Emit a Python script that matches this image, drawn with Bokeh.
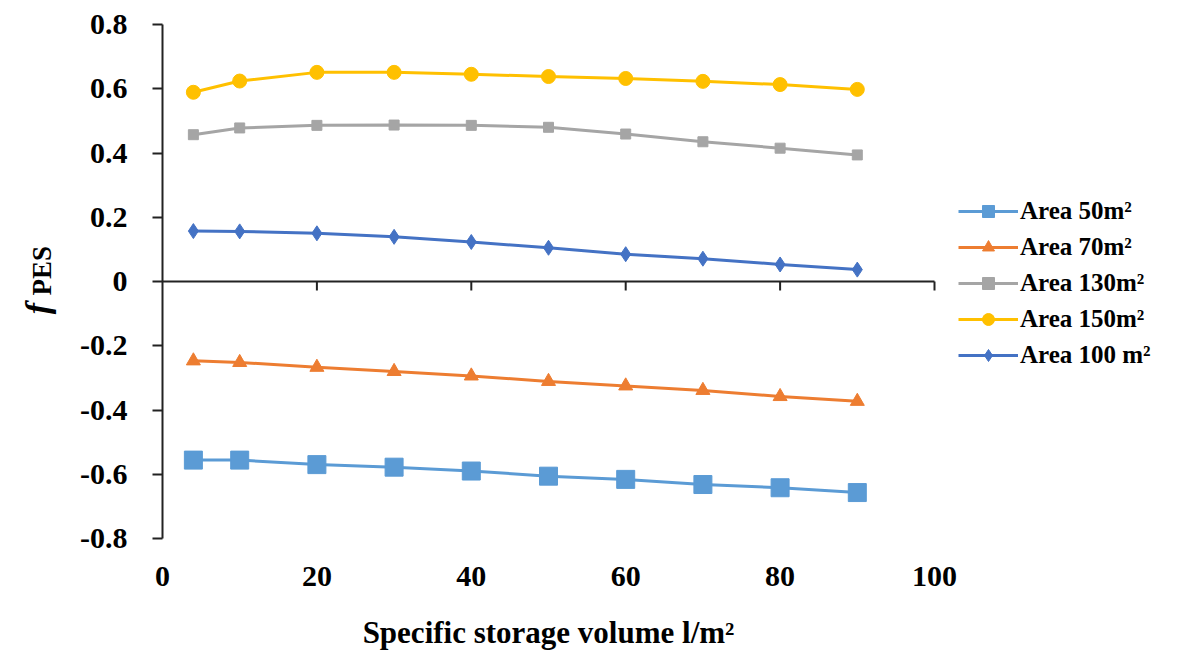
from bokeh.plotting import figure
from bokeh.layouts import row, column
from bokeh.models import (FixedTicker, Legend, LegendItem, Label,
                          Range1d, CustomJSTickFormatter)
from bokeh.embed import file_html
from bokeh.resources import INLINE
import math

# ---- data ----
storage_volume = [4, 10, 20, 30, 40, 50, 60, 70, 80, 90]
area_50 = [-0.556, -0.556, -0.570, -0.578, -0.590, -0.606, -0.616, -0.632, -0.642, -0.657]
area_70 = [-0.247, -0.252, -0.267, -0.280, -0.294, -0.311, -0.325, -0.339, -0.358, -0.373]
area_130 = [0.457, 0.478, 0.486, 0.487, 0.486, 0.480, 0.459, 0.435, 0.415, 0.394]
area_150 = [0.589, 0.624, 0.651, 0.651, 0.645, 0.638, 0.632, 0.623, 0.613, 0.598]
area_100 = [0.157, 0.156, 0.150, 0.139, 0.123, 0.105, 0.085, 0.071, 0.053, 0.037]

series_names = ["Area 50m\u00b2", "Area 70m\u00b2", "Area 130m\u00b2", "Area 150m\u00b2", "Area 100 m\u00b2"]
series_values = [area_50, area_70, area_130, area_150, area_100]
series_colors = ["#5B9BD5", "#ED7D31", "#A5A5A5", "#FFC000", "#4472C4"]
series_markers = ["square", "triangle", "square", "circle", "diamond"]
series_sizes = [18, 14, 10, 14, 15]

x_ticks = [0, 20, 40, 60, 80, 100]
zero_line_ticks = [20, 40, 60, 80, 100]
y_ticks = [-0.8, -0.6, -0.4, -0.2, 0, 0.2, 0.4, 0.6, 0.8]

x_title = "Specific storage volume l/m\u00b2"

FONT = "Liberation Serif"
AXIS_COLOR = "#222222"

FRAME_W = 1000            # plot frame incl. room on the right for the legend
AXIS_W = 772              # pixel width of the 0..100 axis span
X_END = x_ticks[-1] * FRAME_W / AXIS_W
TOP_H = 605               # height of the upper row

# ---- narrow figure holding the y-axis title ----
yt = figure(width=60, height=TOP_H, output_backend="svg", toolbar_location=None,
            x_range=Range1d(0, 60), y_range=Range1d(TOP_H, 0),
            min_border=0, x_axis_location=None, y_axis_location=None)
yt.outline_line_color = None
yt.xgrid.visible = False
yt.ygrid.visible = False
yt.add_layout(Label(x=37, y=341, text="f", angle=math.pi / 2,
                    text_font=FONT, text_font_style="bold italic", text_font_size="34px",
                    text_align="left", text_baseline="middle", text_color="black"))
yt.add_layout(Label(x=41, y=319, text="PES", angle=math.pi / 2,
                    text_font=FONT, text_font_style="bold", text_font_size="27px",
                    text_align="left", text_baseline="middle", text_color="black"))

# ---- main figure ----
p = figure(frame_width=FRAME_W, frame_height=514, output_backend="svg", toolbar_location=None,
           x_range=Range1d(0, X_END), y_range=Range1d(-0.8, 0.8),
           min_border_left=102, min_border_right=0, min_border_top=24,
           min_border_bottom=TOP_H - 24 - 514)
p.outline_line_color = None
p.xgrid.visible = False
p.ygrid.visible = False
p.background_fill_color = "white"

# bottom axis: labels only
xa = p.xaxis[0]
xa.ticker = FixedTicker(ticks=x_ticks)
xa.axis_line_color = None
xa.major_tick_line_color = None
xa.minor_tick_line_color = None
xa.major_label_standoff = 22
xa.major_label_text_font = FONT
xa.major_label_text_font_style = "bold"
xa.major_label_text_font_size = "30px"
xa.major_label_text_color = "black"

# zero line (0..100) with downward ticks
p.segment(x0=[x_ticks[0]], y0=[0], x1=[x_ticks[-1]], y1=[0],
          line_color=AXIS_COLOR, line_width=2)
p.segment(x0=zero_line_ticks, y0=[0] * len(zero_line_ticks),
          x1=zero_line_ticks, y1=[-0.028] * len(zero_line_ticks),
          line_color=AXIS_COLOR, line_width=2)

# y axis
ya = p.yaxis[0]
ya.ticker = FixedTicker(ticks=y_ticks)
ya.formatter = CustomJSTickFormatter(code="return Math.abs(tick) < 1e-9 ? '0' : tick.toFixed(1);")
ya.axis_line_color = AXIS_COLOR
ya.axis_line_width = 2
ya.major_tick_line_color = AXIS_COLOR
ya.major_tick_line_width = 2
ya.major_tick_out = 10
ya.major_tick_in = 0
ya.minor_tick_line_color = None
ya.major_label_standoff = 25
ya.major_label_text_font = FONT
ya.major_label_text_font_style = "bold"
ya.major_label_text_font_size = "30px"
ya.major_label_text_color = "black"

items = []
for name, vals, col, mk, sz in zip(series_names, series_values, series_colors,
                                   series_markers, series_sizes):
    r_line = p.line(storage_volume, vals, line_color=col, line_width=3)
    r_pts = p.scatter(storage_volume, vals, marker=mk, size=sz, fill_color=col,
                      line_color=col)
    items.append(LegendItem(label=name, renderers=[r_line, r_pts]))

legend = Legend(items=items, location=(796, 168))
legend.border_line_color = None
legend.background_fill_alpha = 0
legend.padding = 0
legend.margin = 0
legend.spacing = 6
legend.glyph_width = 60
legend.glyph_height = 30
legend.label_height = 30
legend.label_standoff = 2
legend.label_text_font = FONT
legend.label_text_font_style = "bold"
legend.label_text_font_size = "25px"
legend.label_text_color = "black"
p.add_layout(legend)

# ---- strip below holding the x-axis title ----
XT_H = 45
xt = figure(width=60 + 102 + FRAME_W, height=XT_H, output_backend="svg",
            toolbar_location=None, x_range=Range1d(0, 60 + 102 + FRAME_W),
            y_range=Range1d(XT_H, 0), min_border=0,
            x_axis_location=None, y_axis_location=None)
xt.outline_line_color = None
xt.xgrid.visible = False
xt.ygrid.visible = False
xt.add_layout(Label(x=548, y=27, text=x_title, text_font=FONT,
                    text_font_style="bold", text_font_size="31px",
                    text_align="center", text_baseline="middle", text_color="black"))

layout = column(row(yt, p), xt)
open("out.html", "w").write(file_html(layout, INLINE))
